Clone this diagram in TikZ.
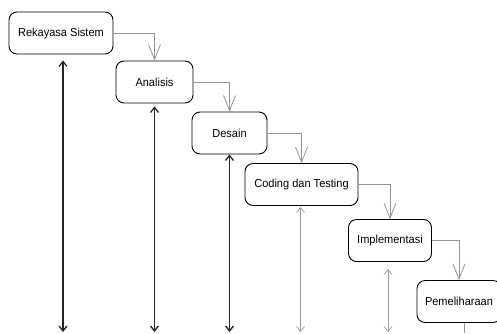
\documentclass[tikz,border=0pt]{standalone}
\usepackage{fontspec}
\setmainfont[FakeStretch=0.95]{Liberation Sans}
\usetikzlibrary{arrows.meta, positioning, shapes.geometric}

\begin{document}
\begin{tikzpicture}[x=1pt, y=-1pt,
		base/.style = {draw=black, fill=white, rounded corners=8pt, minimum height=42pt, inner sep=2pt, align=center, font=\fontsize{11.6}{13}\selectfont, line width=0.9pt} , 
		phase/.style = {rectangle, base},
		flow/.style = {draw=gray!85, line width=0.8pt, -{Straight Barb[length=15pt,width=12pt]}},
		back/.style = {draw=black!85, line width=1.3pt, {Straight Barb[length=5pt,width=8pt]}-{Straight Barb[length=5pt,width=8pt]}},
		backthin/.style = {back, draw=gray!80, line width=0.7pt}
		]
		\useasboundingbox (0,0) rectangle (497,333);
		\coordinate (bot) at (0,332);
		
		\node (A) [phase, minimum width=104pt] at (61,33) {Rekayasa Sistem};
		\node (B) [phase, minimum width=77pt] at (154.5,82) {Analisis};
		\node (C) [phase, minimum width=75pt] at (229.5,133) {Desain};
		\node (D) [phase, minimum width=113pt] at (301.5,184.5) {Coding dan Testing};
		\node (E) [phase, minimum width=83pt] at (390,240.5) {Implementasi};
		\node (F) [phase, minimum width=84pt] at (459,301.5) {Pemeliharaan};
		
		\draw[flow] (A.east) -| (B.north);
		\draw[flow] (B.east) -| (C.north);
		\draw[flow] (C.east) -| (D.north);
		\draw[flow] (D.east) -| (E.north);
		\draw[flow] (E.east) -| (F.north);
		
		\draw[back, shorten >=6pt] ([xshift=2pt]A.south |- bot) -- ([xshift=2pt]A.south);
		\draw[back, shorten >=3pt] (B.south |- bot) -- (B.south);
		\draw[back] (C.south |- bot) -- (C.south);
		\draw[backthin, shorten >=1pt] ([xshift=-1pt]D.south |- bot) -- ([xshift=-1pt]D.south);
		\draw[backthin, shorten >=7pt] ([xshift=-2pt]E.south |- bot) -- ([xshift=-2pt]E.south);
		\draw[draw=gray!85, line width=0.8pt] ([xshift=5pt]F.south) -- ([xshift=5pt]F.south |- 0,333);
	\end{tikzpicture}
\end{document}
